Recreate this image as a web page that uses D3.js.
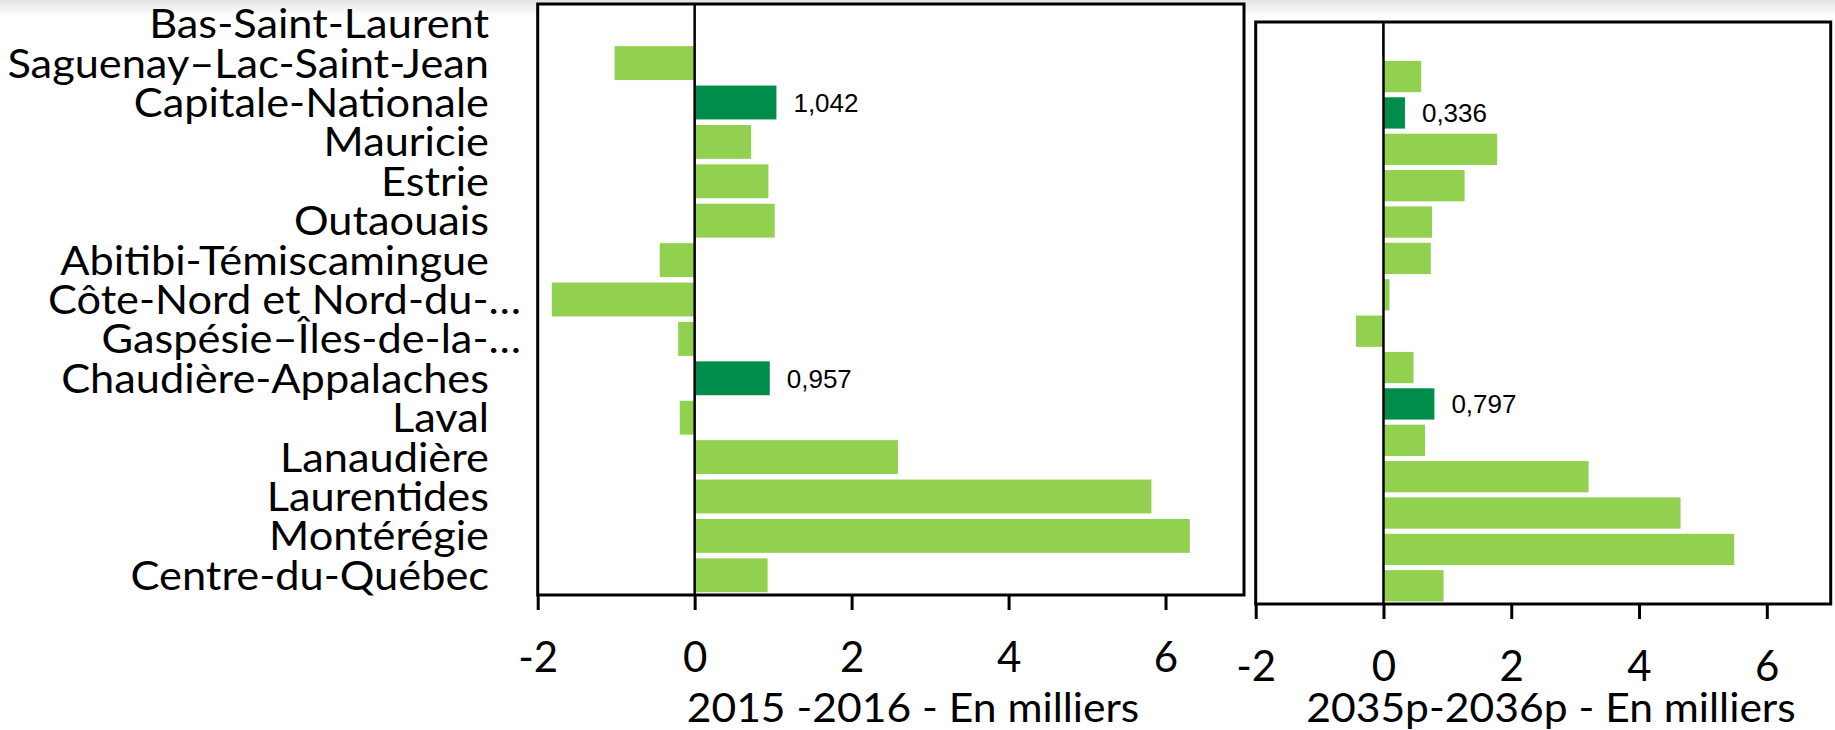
<!DOCTYPE html>
<html>
<head>
<meta charset="utf-8">
<script src="https://cdn.jsdelivr.net/npm/d3@7"></script>
<style>
  html, body { margin: 0; padding: 0; background: #fff; }
  svg { display: block; }
</style>
</head>
<body>
<svg id="chart" width="1835" height="730"></svg>
<script>
// ---------- DATA ----------
const categories = [
  "Bas-Saint-Laurent", "Saguenay–Lac-Saint-Jean", "Capitale-Nationale", "Mauricie",
  "Estrie", "Outaouais", "Abitibi-Témiscamingue", "Côte-Nord et Nord-du-…",
  "Gaspésie–Îles-de-la-…", "Chaudière-Appalaches", "Laval", "Lanaudière",
  "Laurentides", "Montérégie", "Centre-du-Québec"
];
const values2015 = [0, -1.02, 1.042, 0.72, 0.94, 1.02, -0.445, -1.82, -0.21, 0.957, -0.19, 2.59, 5.82, 6.31, 0.93];
const highlight2015 = [false, false, true, false, false, false, false, false, false, true, false, false, false, false, false];
// second panel has 16 rows (unlabelled in the source)
const values2035 = [-0.02, 0.59, 0.336, 1.78, 1.27, 0.76, 0.74, 0.094, -0.43, 0.47, 0.797, 0.65, 3.21, 4.65, 5.49, 0.94];
const highlight2035 = [true, false, true, false, false, false, false, false, false, false, true, false, false, false, false, false];
const xDomain = [-2, 7];
const xTicks = [-2, 0, 2, 4, 6];
const axisTitles = ["2015 -2016 - En milliers", "2035p-2036p - En milliers"];

// ---------- STYLE ----------
const LIGHT = "#92d050", DARK = "#008c4a";
const svg = d3.select("#chart");

// faint grey band at the very top (cropped title remnant)
const defs = svg.append("defs");
const grad = defs.append("linearGradient").attr("id", "topband").attr("x1", 0).attr("x2", 0).attr("y1", 0).attr("y2", 1);
grad.append("stop").attr("offset", "0%").attr("stop-color", "#e4e4e4");
grad.append("stop").attr("offset", "100%").attr("stop-color", "#ffffff");
svg.append("rect").attr("x", 0).attr("y", 0).attr("width", 1835).attr("height", 16).attr("fill", "url(#topband)");

const fmt = v => d3.format(".3f")(v).replace(".", ",");

function panel(opts) {
  const { values, highlight, keys, xRange, yRange, title, titleX } = opts;
  const x = d3.scaleLinear().domain(xDomain).range(xRange);
  const y = d3.scaleBand().domain(keys).range(yRange).paddingInner(0.14).paddingOuter(0.07);
  const g = svg.append("g");
  const data = values.map((v, i) => ({ k: keys[i], v, h: highlight[i] }));

  g.append("rect")
    .attr("x", xRange[0]).attr("y", yRange[0])
    .attr("width", xRange[1] - xRange[0]).attr("height", yRange[1] - yRange[0])
    .attr("fill", "#fff");

  g.selectAll("rect.bar").data(data).join("rect")
    .attr("class", "bar")
    .attr("x", d => x(Math.min(0, d.v)))
    .attr("y", d => y(d.k))
    .attr("width", d => Math.abs(x(d.v) - x(0)))
    .attr("height", y.bandwidth())
    .attr("fill", d => d.h ? DARK : LIGHT);

  // value labels on highlighted bars
  g.selectAll("text.val").data(data.filter(d => d.h && Math.abs(d.v) > 0.1)).join("text")
    .attr("class", "val")
    .attr("x", d => x(d.v) + 17)
    .attr("y", d => y(d.k) + y.bandwidth() / 2)
    .attr("dy", "0.36em")
    .attr("font-family", "Liberation Sans, Arial, sans-serif")
    .attr("font-size", 26)
    .attr("fill", "#000")
    .text(d => fmt(d.v));

  // zero line
  g.append("line")
    .attr("x1", x(0)).attr("x2", x(0))
    .attr("y1", yRange[0]).attr("y2", yRange[1])
    .attr("stroke", "#000").attr("stroke-width", 2.5);

  // frame
  g.append("rect")
    .attr("x", xRange[0]).attr("y", yRange[0])
    .attr("width", xRange[1] - xRange[0]).attr("height", yRange[1] - yRange[0])
    .attr("fill", "none").attr("stroke", "#000").attr("stroke-width", 3);

  // axis
  const ax = g.append("g").attr("transform", `translate(0,${yRange[1]})`)
    .call(d3.axisBottom(x).tickValues(xTicks).tickSize(15).tickFormat(d => String(d)));
  ax.select(".domain").remove();
  ax.selectAll(".tick line").attr("stroke", "#000").attr("stroke-width", 3);
  ax.selectAll(".tick text")
    .attr("y", 77).attr("dy", 0)
    .attr("font-family", "Lato, sans-serif")
    .attr("font-size", 42)
    .attr("fill", "#000");

  g.append("g").attr("transform", `translate(${titleX},722) scale(1.065,1)`)
    .append("text")
    .attr("x", 0).attr("y", 0)
    .attr("text-anchor", "middle")
    .attr("font-family", "Lato, sans-serif")
    .attr("font-size", 40)
    .attr("fill", "#000")
    .text(title);
  return { x, y };
}

const left = panel({
  values: values2015, highlight: highlight2015, keys: categories,
  xRange: [537.7, 1244], yRange: [4, 595], title: axisTitles[0], titleX: 913
});

panel({
  values: values2035, highlight: highlight2035, keys: d3.range(values2035.length),
  xRange: [1255.7, 1830.7], yRange: [22, 604], title: axisTitles[1], titleX: 1551
});

// category labels
svg.append("g").selectAll("g").data(categories).join("g")
  .attr("transform", d => `translate(${d.endsWith("…") ? 521 : 489},${left.y(d) + left.y.bandwidth() / 2}) scale(1.07,1)`)
  .append("text")
  .attr("x", 0).attr("y", 0)
  .attr("dy", "0.36em")
  .attr("text-anchor", "end")
  .attr("font-family", "Lato, sans-serif")
  .attr("font-size", 40.5)
  .attr("fill", "#000")
  .text(d => d);
</script>
</body>
</html>
